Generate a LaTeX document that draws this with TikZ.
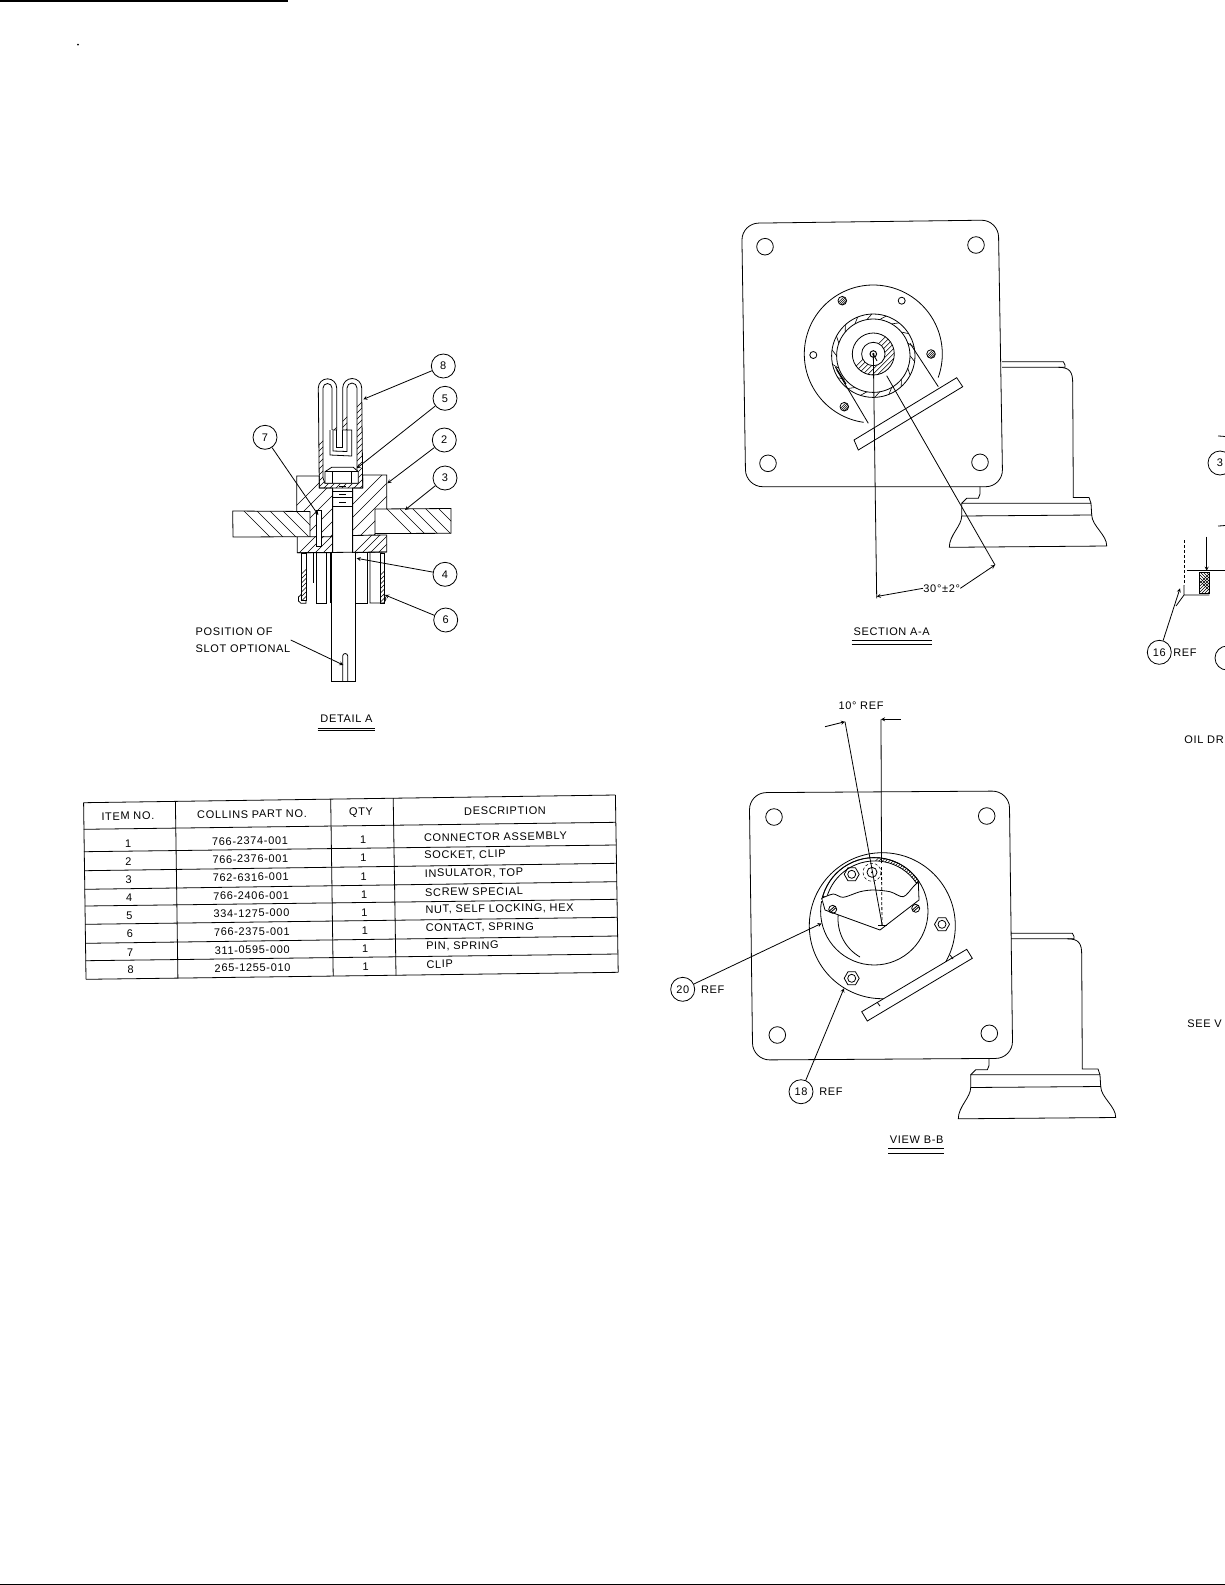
\documentclass[tikz,border=0pt]{standalone}
\usepackage{fontspec}
\setmainfont{Liberation Sans}[LetterSpace=6]
\usepackage{tikz}
\usetikzlibrary{arrows,positioning}

\newcommand{\hatcharea}[4]{\begin{scope}\clip #1; \begin{scope}[shift={(#2)},yscale=#4]
    \foreach \k in {-140,-#3,...,140} \draw[hatchline] (\k-100,100) -- (\k+100,-100);
    \foreach \k in {0,#3,...,140} \draw[hatchline] (\k-100,100) -- (\k+100,-100);
  \end{scope}\end{scope}}
\newcommand{\hexnut}[1]{\draw[shift={(#1)}] (0:7.5) -- (60:7.5) -- (120:7.5) -- (180:7.5) -- (240:7.5) -- (300:7.5) -- cycle (0,0) circle (4);}
\newcommand{\slotscrew}[1]{\draw[shift={(#1)}] (0,0) circle (4) (-3,1.4) -- (2,-3) (-2,3) -- (3,-1.4);}
\newcommand{\hatchscrew}[1]{\draw (#1) circle (4.3); \hatcharea{(#1) circle (4.3)}{#1}{2.2}{1}}

\tikzset{hatchline/.style={line width=0.6pt}}

\begin{document}
\begin{tikzpicture}[x=1pt, y=-1pt, line width=0.8pt, >=stealth, node distance=30pt, font=\fontsize{11}{13}\selectfont]
    \tikzstyle{balloon}=[draw, circle, minimum size=24pt, inner sep=0pt, fill=white]
    \tikzstyle{lbl}=[inner sep=0pt]
    \useasboundingbox (0,0) rectangle (1225,1585);
    \clip (0,0) rectangle (1225,1585);

    % Page edges
    \fill (0,0) rectangle (288,1.5);
    \fill (0,1583.5) rectangle (1225,1585);
    \fill (78,44.5) circle (1);

    % Detail A, plates and block
    \def\plateL{(232.7,511) -- (310,511.5) -- (310,536.7) -- (233,537) -- cycle}
    \def\plateR{(375,509) -- (451,508.5) -- (451,533.3) -- (375,533.5) -- cycle}
    \def\blockL{(296.7,476) -- (319.3,476) -- (319.3,488) -- (332.7,488) -- (332.7,536.7) -- (310,536.7) -- (310,511.5) -- (296.7,511.5) -- cycle}
    \def\blockR{(362.7,475) -- (386.7,475) -- (386.7,509) -- (375,509) -- (375,535) -- (352.7,535.5) -- (352.7,488) -- (362.7,488) -- cycle}
    \def\insulL{(297.3,536.7) -- (332.7,536.7) -- (332.7,552.7) -- (297.3,552.7) -- cycle}
    \def\insulR{(352.7,535.5) -- (386.7,535) -- (386.7,552) -- (352.7,552.7) -- cycle}
    \draw \plateL \plateR \blockL \blockR \insulL \insulR;
    \hatcharea{\plateL}{270,524}{13}{-1}
    \hatcharea{\plateR}{412,521}{13}{-1}
    \hatcharea{\blockL}{315,500}{13}{1}
    \hatcharea{\blockR}{370,500}{13}{1}
    \hatcharea{\insulL}{315,545}{8}{1}
    \hatcharea{\insulR}{370,545}{8}{1}
    \draw[fill=white] (316.7,510) rectangle (321.7,546.7);

    % Detail A, screw
    \draw (332.7,488) -- (332.7,552.7) (352.7,488) -- (352.7,552.7);
    \draw (332.7,491) -- (352.7,491) (332.7,497.7) -- (352.7,497.7) (332.7,506.7) -- (352.7,506.7);
    \draw (339,486) -- (346,486) (339,494) -- (346,494) (339,502.3) -- (346,502.3);
    \draw[fill=white] (331.7,552.7) -- (331.7,681.7) -- (355.7,681.7) -- (355.7,552.7);
    \draw (297.3,552.7) -- (386.7,552);
    \draw (342.7,681.7) -- (342.7,656) arc (180:360:2.5) -- (347.7,681.7);

    % Detail A, spring contact
    \def\wallL{(301.7,553) rectangle (306,600)}
    \def\wallR{(380,553) rectangle (384,603)}
    \draw \wallL \wallR;
    \hatcharea{\wallL}{304,576}{4.5}{1}
    \hatcharea{\wallR}{382,578}{4.5}{1}
    \draw (301.7,594) -- (298.5,597) -- (298.5,601) -- (301,603.3) -- (306,603.3) -- (306,600);
    \draw (384,595) -- (386,599) -- (384,603) -- (370,603) -- (370,553);
    \draw (313.5,553) -- (313.5,583);
    \draw (316.7,553) -- (316.7,603.3) -- (326.7,603.3) -- (326.7,553);
    \draw (330,553) -- (330,603);
    \draw (355.7,603) -- (367.3,603) -- (367.3,553);

    % Detail A, clip
    \def\fingerL{(319.3,488) -- (318.3,388) arc (180:360:9.2) -- (336.7,430) -- (332,430) -- (332,388) arc (360:180:4.5) -- (323,478) -- (325,483.3) -- (358,483.3) -- (357,478) -- (357,388) arc (360:180:5) -- (347,430) -- (342.7,430) -- (342.7,388) arc (180:360:9.5) -- (362.7,488) -- cycle}
    \draw \fingerL;
    \hatcharea{\fingerL}{340,430}{6}{1}
    \draw[fill=white] (330,430) -- (330,455) -- (351.7,456) -- (351.7,430) -- (347,430) (347,430) -- (347,451.5) -- (333,451) -- (333,430);
    \draw (336.7,430) -- (336.7,447) -- (342.7,447) -- (342.7,430);

    % Detail A, nut
    \draw[fill=white] (325,471.7) -- (331.7,467.3) -- (353.3,467.3) -- (358.3,471.7) -- (358.3,483.3) -- (325,483.3) -- cycle;
    \draw (325,471.7) -- (358.3,471.7) (332.7,471.7) -- (332.7,483.3) (351.7,471.7) -- (351.7,483.3);

    % Detail A, balloons
    \node[balloon] (b8) at (443.3,366) {8};
    \node[balloon] (b5) at (445,398.3) {5};
    \node[balloon] (b2) at (444.3,440) {2};
    \node[balloon] (b3) at (445,478)   {3};
    \node[balloon] (b4) at (445,574.3) {4};
    \node[balloon] (b6) at (445.7,620) {6};
    \node[balloon] (b7) at (265,437.3) {7};
    \coordinate (t8) at (363.3,399.3);
    \coordinate (t5) at (356.7,468.3);
    \coordinate (t2) at (387.3,483.3);
    \coordinate (t3) at (405,510);
    \coordinate (t4) at (356.7,558.3);
    \coordinate (t6) at (385,595);
    \coordinate (t7) at (318.3,515);
    \coordinate (tslot) at (343.3,665);
    \node[lbl, align=left] (slotnote) at (243,640) {POSITION OF\\[4pt]SLOT OPTIONAL};
    \node[lbl] (detail) at (346.5,719) {DETAIL A};
    \draw (317.5,728) -- (375,728) (317.5,730.5) -- (375,730.5);
    \path[->]
        (b8) edge (t8)
        (b5) edge (t5)
        (b2) edge (t2)
        (b3) edge (t3)
        (b4) edge (t4)
        (b6) edge (t6)
        (b7) edge (t7)
        (slotnote.east) edge (tslot)
    ;

    % Parts table
    \draw (83.6,802.7) -- (615.4,795) (83.6,829.3) -- (615.9,822.3) (83.9,851.7) -- (616.2,845)
          (84.2,870.7) -- (616.5,863.3) (84.5,889.3) -- (616.8,881.7) (84.8,906) -- (617.1,899.3)
          (85.1,924.3) -- (617.4,917.3) (85.4,943.3) -- (617.7,936) (85.7,960.7) -- (618,954)
          (86,979.3) -- (618.2,972.3);
    \draw (83.6,802.7) -- (86,979.3) (175.4,801.5) -- (177.9,978) (330.7,799) -- (333.2,976)
          (393.2,798) -- (396,975.5) (615.4,795) -- (618.2,972.3);
    \node[lbl, rotate=0.8] (hitem) at (127.9,816)   {ITEM NO.};
    \node[lbl, rotate=0.8] (hpart) at (252,814.3)   {COLLINS PART NO.};
    \node[lbl, rotate=0.8] (hqty)  at (361,812.7)   {QTY};
    \node[lbl, rotate=0.8] (hdesc) at (505,810.7)   {DESCRIPTION};
    \foreach \n/\pn/\ds/\yy in {1/766-2374-001/CONNECTOR ASSEMBLY/841, 2/766-2376-001/{SOCKET, CLIP}/859,
        3/762-6316-001/{INSULATOR, TOP}/877.3, 4/766-2406-001/SCREW SPECIAL/895.7,
        5/334-1275-000/{NUT, SELF LOCKING, HEX}/913.3, 6/766-2375-001/{CONTACT, SPRING}/931.7,
        7/311-0595-000/{PIN, SPRING}/950, 8/265-1255-010/CLIP/967.7} {
      \node[lbl, rotate=0.8] (item\n) at (128+0.02*\yy-16.8,\yy+2.3) {\n};
      \node[lbl, rotate=0.8] (part\n) at (250+0.02*\yy-16.8,\yy) {\pn};
      \node[lbl, rotate=0.8] (qty\n)  at (363+0.02*\yy-16.8,\yy-1) {1};
      \node[lbl, rotate=0.8, anchor=west] (desc\n) at (423.6+0.02*\yy-16.8,\yy-3.3) {\ds};
    }

    % Section A-A, plate and holes
    \draw[rounded corners=17pt] (741.7,223.3) -- (998.3,220) -- (1002.7,486.7) -- (745.7,486.7) -- cycle;
    \foreach \hx/\hy in {765/246.7, 976/245, 768/463.3, 980/462.3} \draw (\hx,\hy) circle (8.3);

    % Section A-A, flange and ring
    \draw (873.3,354) ++(98:69) arc (98:380:69);
    \draw (873.3,355.7) circle (41.7) (873.3,355.7) circle (36.7);
    \foreach \a in {0,20,...,340} \draw[hatchline,shift={(873.3,355.7)}] (\a:36.7) -- (\a+8:41.7);
    \draw (873.3,354) circle (21);
    \hatcharea{(873.3,354) circle (21)}{873.3,354}{5}{1}
    \draw[fill=white] (873.3,354) circle (11.7);
    \draw[fill=white, line width=1pt] (873.3,354) circle (3.3);
    \fill (873.3,354) circle (1.2);
    \hatchscrew{842.3,300.7}
    \hatchscrew{931,354}
    \hatchscrew{844.3,406.7}
    \draw (901.7,300.7) circle (3.5) (813.3,355) circle (3.5);
    \draw (910,343.3) -- (938.3,386.7) (836.7,370) -- (868.3,423.3);
    \draw[line width=1.1pt] (835.5,367) -- (846,384);
    \draw[fill=white] (854,440) -- (956.7,377.7) -- (962.7,386.7) -- (858.3,450) -- cycle;

    % Section A-A, dimension
    \coordinate (s0) at (873.3,354);
    \coordinate (s1) at (876.7,598.3);
    \coordinate (s2) at (886.7,375.7);
    \coordinate (s3) at (995,565);
    \draw (s0) -- (s1) (s2) -- (s3) (s0) -- (877,361);
    \node[lbl] (sangle) at (941.7,588.3) {30°±2°};
    \path[->]
        (sangle.west) edge (876.7,596.5)
        (sangle.east) edge (s3)
    ;
    \node[lbl] (secaa) at (891.7,631.7) {SECTION A-A};
    \draw (851.7,640) -- (932,640) (851.7,644) -- (932,644);

    % Standoff, drawn for section A-A and for view B-B
    \foreach \sx/\sy in {0/0, 9/571.5} {
      \begin{scope}[shift={(\sx,\sy)}]
        \draw (1002,361.7) -- (1063.3,361.7) -- (1065,365) -- (1065,367.3) -- (1002,367.3);
        \draw (1058.3,367.3) .. controls (1070,367.3) and (1072.7,372) .. (1072.7,383.3) -- (1073.3,497.5) -- (1089,497.5) -- (1091,503.3);
        \draw (961.7,503.3) -- (1091,503.3) -- (1091.7,515) -- (961.7,516) -- cycle;
        \draw (961.7,503.3) -- (966.7,498.3) -- (978.3,498.3) -- (980,494) -- (980,486.7);
        \draw (961.7,516) .. controls (961.7,526) and (949.3,535) .. (949.3,547.3) -- (1106.7,546) .. controls (1107,535) and (1092,526) .. (1091.7,515);
      \end{scope}
    }

    % View B-B, plate and holes
    \draw[rounded corners=17pt] (749.3,792.7) -- (1009.3,791) -- (1012.7,1058.3) -- (752.7,1060) -- cycle;
    \foreach \hx/\hy in {774/817, 986.7/816, 777.3/1035, 989.3/1033.3} \draw (\hx,\hy) circle (8.3);

    % View B-B, flange and window
    \draw (882.3,925.7) circle (73);
    \draw (874.3,911.3) circle (53.7);
    \def\vbband{(874.3,911.3) ++(196:53.7) arc (196:326:53.7) -- ++(146:3) arc (326:196:50) -- cycle}
    \draw \vbband;
    \hatcharea{\vbband}{870,870}{3.5}{1}
    \draw[fill=white] plot[smooth] coordinates {(821.7,898.3) (833.3,894) (843.3,897.3) (860,891.7) (873.3,890) (890,891.7) (903.3,896.7) (913.3,886.7) (918.3,881.7)} -- (919,900) -- (880,930) -- (825,910) -- cycle;
    \draw[white, line width=1.2pt] (819,902) -- (822,900);
    \draw (860,957) arc (120:185:44) ;
    \slotscrew{832.7,909.3}
    \slotscrew{915.7,908.3}
    \hexnut{851.7,874.3}
    \hexnut{942,924.3}
    \hexnut{851.7,978.3}
    \draw (872,872.3) circle (5);
    \draw[densely dashed, line width=0.5pt] (872,872.3) circle (9);
    \fill (872,872.3) circle (1);
    \draw[fill=white] (861.7,1011.7) -- (966.7,949.3) -- (972.3,958.3) -- (867.3,1021) -- cycle;
    \draw (877,1002) -- (880,1006) (950,955) -- (953,959);

    % View B-B, dimension
    \coordinate (v0) at (882.3,925.7);
    \coordinate (v1) at (845,721.7);
    \coordinate (v2) at (881,719.3);
    \draw (v1) -- (v0) (v2) -- (881.5,863);
    \draw[densely dashed] (881.5,867) -- (882,925);
    \draw (878,925.7) -- (887,925.7);
    \coordinate (va) at (825,726.7);
    \coordinate (vb) at (900.7,719.3);
    \path[->]
        (va) edge (v1)
        (vb) edge (v2)
    ;
    \node[lbl] (vangle) at (861,705.7) {10° REF};
    \node[lbl] (viewbb) at (916.7,1140) {VIEW B-B};
    \draw (888.3,1148.3) -- (944.3,1148.3) (888.3,1153) -- (944.3,1153);

    % View B-B, balloons
    \node[balloon] (b20) at (682.7,989.3) {20};
    \node[balloon] (b18) at (801,1091.7)  {18};
    \node[lbl] (r20) [right of=b20] {REF};
    \node[lbl] (r18) [right of=b18] {REF};
    \coordinate (t20) at (821.7,923.3);
    \coordinate (t18) at (844,988.3);
    \path[->]
        (b20) edge (t20)
        (b18) edge (t18)
    ;

    % Right edge, cut off by the page
    \node[balloon] (b3r) at (1220,463) {3};
    \draw (1218,526) arc (270:90:-45);
    \draw (1186.7,570.7) -- (1225,570.7);
    \def\seal{(1199,572) rectangle (1209.3,593.3)}
    \draw \seal;
    \hatcharea{\seal}{1204,582}{3}{1}
    \hatcharea{\seal}{1204,582}{3}{-1}
    \draw (1184,585) -- (1184,595) -- (1209.3,595) (1184,595) -- (1176,606);
    \draw[densely dashed, line width=0.5pt] (1184,540) -- (1184,585);
    \coordinate (tin) at (1206.7,570.7);
    \coordinate (tin0) at (1206.7,536.7);
    \node[balloon] (b16) at (1159.3,652.3) {16};
    \node[lbl] (r16) at (1185,652.3) {REF};
    \node[balloon] (bcut) at (1227,658) {};
    \coordinate (t16) at (1180,588.3);
    \path[->]
        (b16) edge (t16)
        (tin0) edge (tin)
    ;
    \node[lbl, anchor=west] (oil) at (1184,740) {OIL DR};
    \node[lbl, anchor=west] (see) at (1187,1024) {SEE V};
\end{tikzpicture}
\end{document}
